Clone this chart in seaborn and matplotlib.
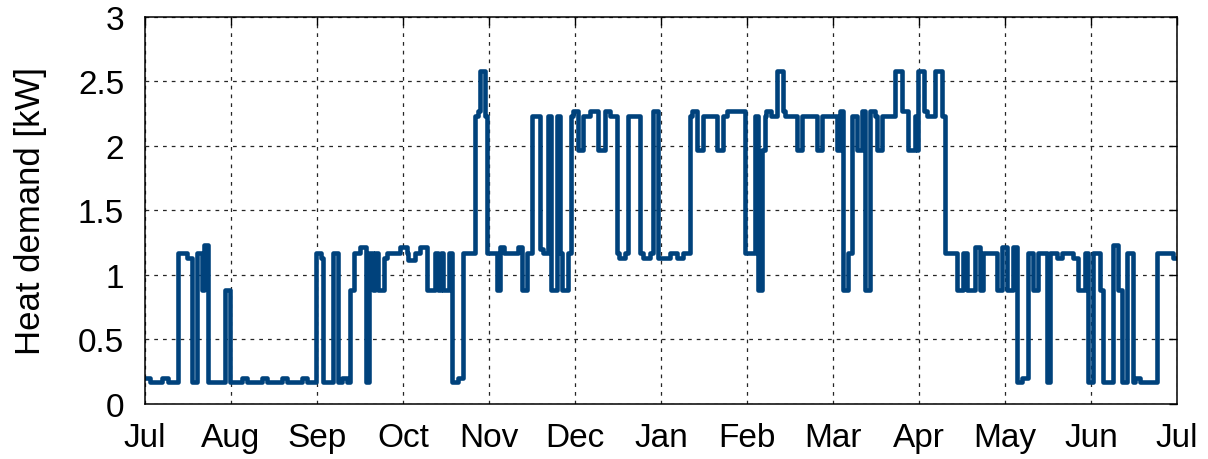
import numpy as np
import pandas as pd
import matplotlib
matplotlib.use("Agg")
import matplotlib.pyplot as plt
import seaborn as sns


# day of the year (starting 1 July) where the demand changes, and the new value
change_day = [
    0.0, 1.8, 6.0, 8.1, 11.7, 14.9, 16.6, 18.4, 20.2, 20.9,
    22.3, 28.3, 30.1, 34.3, 36.1, 41.4, 43.1, 48.5, 50.2, 55.5,
    57.3, 60.5, 62.2, 63.0, 66.5, 68.3, 69.7, 71.4, 72.5, 73.9,
    76.0, 78.2, 79.2, 80.6, 81.3, 82.4, 84.5, 85.6, 90.2, 92.7,
    93.0, 95.5, 97.3, 99.7, 102.6, 103.6, 104.7, 105.4, 107.5, 108.6,
    110.7, 112.5, 116.7, 117.8, 118.5, 120.3, 121.0, 124.5, 125.6, 127.0,
    131.9, 133.3, 135.1, 136.9, 139.7, 140.8, 142.5, 143.6, 145.7, 146.8,
    147.5, 149.6, 150.7, 151.4, 153.1, 154.9, 157.4, 160.2, 162.7, 164.5,
    166.9, 167.6, 169.8, 170.8, 175.1, 176.1, 178.6, 179.7, 181.4, 185.7,
    188.2, 190.3, 192.8, 193.5, 195.2, 197.4, 202.3, 204.5, 205.9, 212.2,
    215.7, 216.8, 218.2, 219.3, 219.7, 221.4, 223.5, 225.6, 226.4, 230.6,
    232.4, 237.7, 239.4, 244.7, 245.8, 246.9, 248.6, 250.1, 251.8, 253.6,
    254.7, 256.4, 258.2, 258.9, 260.7, 265.3, 267.7, 269.9, 272.3, 273.0,
    273.4, 275.5, 276.6, 279.4, 281.9, 282.9, 287.2, 289.3, 290.7, 293.6,
    295.3, 296.4, 301.3, 303.1, 304.9, 307.0, 308.4, 310.2, 312.3, 314.1,
    315.8, 319.0, 320.1, 322.6, 324.3, 328.2, 330.0, 332.5, 333.5, 335.3,
    337.8, 338.8, 342.4, 344.1, 345.5, 347.3, 349.4, 350.1, 351.9, 357.9,
    363.6, 365.0,
]

demand_kw = [
    0.20, 0.17, 0.20, 0.17, 1.17, 1.13, 0.17, 1.17, 0.88, 1.23,
    0.17, 0.88, 0.17, 0.20, 0.17, 0.20, 0.17, 0.20, 0.17, 0.20,
    0.17, 1.17, 1.13, 0.17, 1.17, 0.17, 0.20, 0.17, 0.88, 1.17,
    1.22, 0.17, 1.17, 0.88, 1.17, 0.88, 1.13, 1.17, 1.22, 1.17,
    1.12, 1.17, 1.22, 0.88, 1.17, 0.88, 1.17, 0.88, 1.17, 0.17,
    0.20, 1.17, 2.23, 2.27, 2.58, 2.23, 1.17, 0.88, 1.22, 1.17,
    1.22, 0.88, 1.17, 2.23, 1.20, 1.17, 2.23, 0.88, 2.23, 1.17,
    0.88, 1.17, 2.23, 2.27, 1.97, 2.23, 2.27, 1.97, 2.27, 2.23,
    1.17, 1.13, 1.17, 2.23, 1.17, 1.13, 1.17, 2.27, 1.13, 1.17,
    1.13, 1.17, 2.23, 2.27, 1.97, 2.23, 1.97, 2.23, 2.27, 1.17,
    2.23, 0.88, 1.97, 2.23, 2.27, 2.23, 2.58, 2.27, 2.23, 1.97,
    2.23, 1.97, 2.23, 1.97, 2.27, 0.88, 1.17, 2.23, 1.97, 2.27,
    0.88, 2.27, 2.23, 1.97, 2.23, 2.58, 2.27, 1.97, 2.23, 1.97,
    2.58, 2.27, 2.23, 2.58, 2.23, 1.17, 0.88, 1.17, 0.88, 1.22,
    0.88, 1.17, 0.88, 1.22, 0.88, 1.22, 0.17, 0.20, 1.17, 0.88,
    1.17, 0.17, 1.17, 1.13, 1.17, 1.13, 0.88, 1.17, 0.17, 1.17,
    0.88, 0.17, 1.23, 0.88, 0.17, 1.17, 0.17, 0.20, 0.17, 1.17,
    1.13, 1.13,
]

month_labels = ["Jul", "Aug", "Sep", "Oct", "Nov", "Dec", "Jan",
                "Feb", "Mar", "Apr", "May", "Jun", "Jul"]
y_ticks = [0, 0.5, 1, 1.5, 2, 2.5, 3]


def plot():

    df = pd.DataFrame({"day": change_day, "demand": demand_kw})

    sns.set_style("white")
    plt.rcParams["font.family"] = ["Liberation Sans", "DejaVu Sans"]
    plt.rcParams["text.color"] = "black"
    plt.rcParams["xtick.color"] = "black"
    plt.rcParams["ytick.color"] = "black"
    plt.rcParams["axes.labelcolor"] = "black"

    fig = plt.figure(figsize=(12.08, 4.6), dpi=100)
    ax = fig.add_axes([0.12, 0.1196, 0.8543, 0.8413])

    sns.lineplot(
        data=df,
        x="day",
        y="demand",
        estimator=None,
        drawstyle="steps-post",
        color="#00427c",
        linewidth=3.3,
        ax=ax
    )

    ax.set_xlim(0, 365)
    ax.set_ylim(0, 3)
    ax.set_xticks(np.arange(13) * 365 / 12)
    ax.set_xticklabels(month_labels)
    ax.set_yticks(y_ticks)
    ax.set_yticklabels(["0", "0.5", "1", "1.5", "2", "2.5", "3"])

    ax.grid(True, color="0.15", linestyle=(0, (3, 4)), linewidth=0.9)
    ax.set_axisbelow(True)

    for spine in ax.spines.values():
        spine.set_visible(True)
        spine.set_color("black")
        spine.set_linewidth(1.1)

    ax.tick_params(
        direction="in",
        length=6,
        width=1,
        top=True,
        right=True,
        labelsize=24
    )
    ax.tick_params(axis="y", pad=15)
    ax.tick_params(axis="x", pad=13)

    ax.set_xlabel("")
    ax.set_ylabel("Heat demand [kW]", fontsize=25, labelpad=22)

    fig.savefig("out.png", dpi=100)


if __name__ == "__main__":
    plot()
